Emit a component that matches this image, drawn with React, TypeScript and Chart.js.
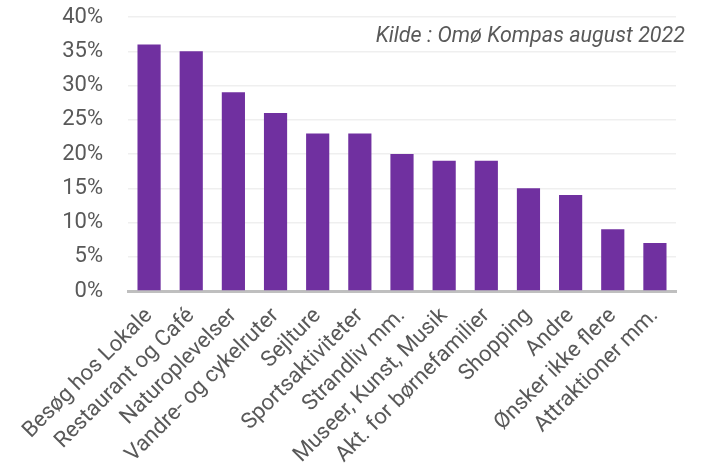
import React, { useEffect, useRef } from "react";
import { Chart, registerables } from "chart.js";

Chart.register(...registerables);

const categories = [
  "Besøg hos Lokale",
  "Restaurant og Café",
  "Naturoplevelser",
  "Vandre- og cykelruter",
  "Sejlture",
  "Sportsaktiviteter",
  "Strandliv mm.",
  "Museer, Kunst, Musik",
  "Akt. for børnefamilier",
  "Shopping",
  "Andre",
  "Ønsker ikke flere",
  "Attraktioner mm.",
];
const values = [36, 35, 29, 26, 23, 23, 20, 19, 19, 15, 14, 9, 7];
const yTicks = [0, 5, 10, 15, 20, 25, 30, 35, 40];
const sourceNote = "Kilde : Omø Kompas august 2022";

const FONT = "Roboto, 'DejaVu Sans', sans-serif";
const TEXT = "#595959";

const notePlugin = {
  id: "note",
  afterDraw(chart: any) {
    const ctx = chart.ctx;
    ctx.save();
    ctx.font = `italic 21.5px ${FONT}`;
    ctx.fillStyle = TEXT;
    ctx.textAlign = "right";
    ctx.textBaseline = "alphabetic";
    ctx.fillText(sourceNote, chart.chartArea.right + 9, chart.chartArea.top + 25);
    ctx.restore();
  },
};

export default function App() {
  const ref = useRef<HTMLCanvasElement | null>(null);
  useEffect(() => {
    document.body.style.margin = "0";
    const chart = new Chart(ref.current!, {
      type: "bar",
      data: {
        labels: categories,
        datasets: [
          {
            data: values,
            backgroundColor: "#7030A0",
            borderWidth: 0,
            barPercentage: 0.55,
            categoryPercentage: 1,
          },
        ],
      },
      options: {
        animation: false,
        responsive: true,
        maintainAspectRatio: false,
        layout: { padding: { top: 17, right: 31, left: 0, bottom: 0 } },
        plugins: { legend: { display: false }, tooltip: { enabled: false } },
        scales: {
          x: {
            grid: { display: false, drawTicks: false },
            border: { color: "#bfbfbf", width: 3 },
            ticks: {
              autoSkip: false,
              maxRotation: 45,
              minRotation: 45,
              color: TEXT,
              padding: 12,
              font: { family: FONT, size: 22 },
            },
            afterFit(scale: any) {
              scale.height = 184;
            },
          },
          y: {
            min: 0,
            max: 40,
            afterBuildTicks(scale: any) {
              scale.ticks = yTicks.map((v) => ({ value: v }));
            },
            grid: { color: "#efefef", lineWidth: 1.5, drawTicks: false },
            border: { display: false },
            ticks: {
              color: TEXT,
              padding: 25,
              font: { family: FONT, size: 22 },
              callback: (v: any) => `${v}%`,
            },
            afterFit(scale: any) {
              scale.width = 128;
              scale.paddingTop = 0;
              scale.paddingBottom = 0;
            },
          },
        },
      },
      plugins: [notePlugin],
    });
    return () => chart.destroy();
  }, []);
  return (
    <div style={{ width: 707, height: 475, position: "relative" }}>
      <canvas ref={ref} />
    </div>
  );
}
